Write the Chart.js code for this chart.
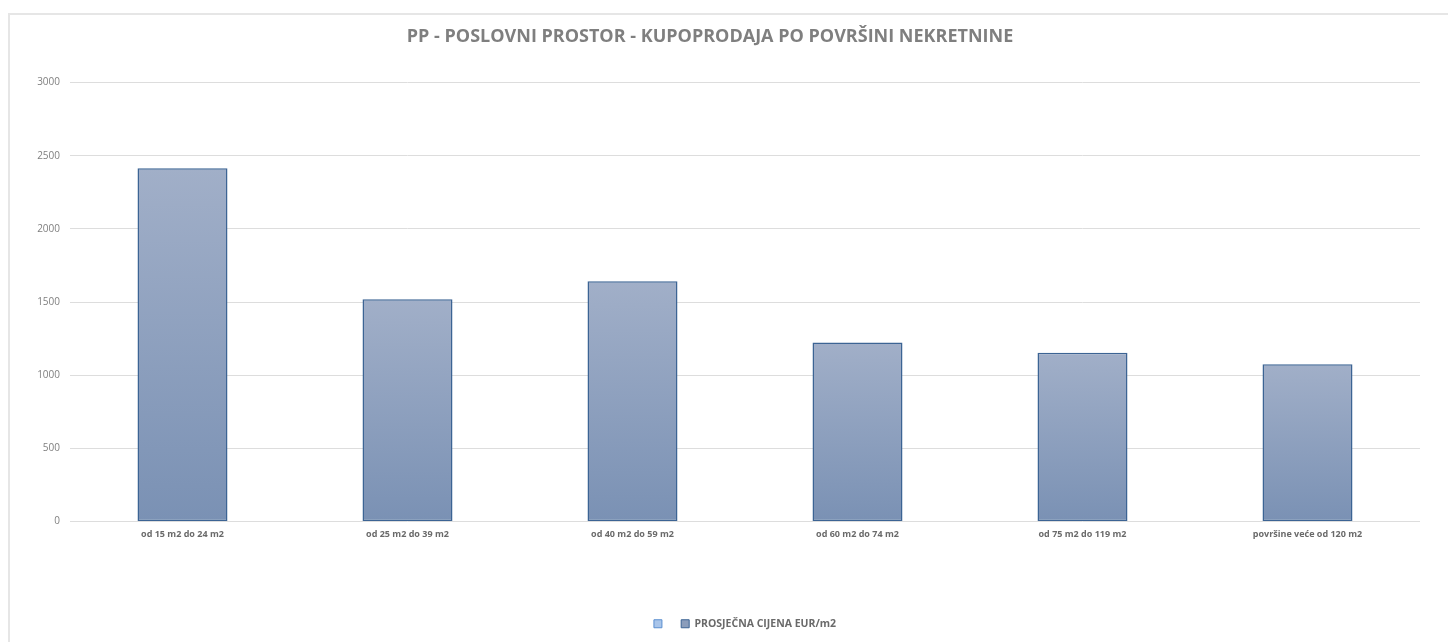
<!DOCTYPE html>
<html>
<head>
<meta charset="utf-8">
<script src="https://cdn.jsdelivr.net/npm/chart.js@4/dist/chart.umd.min.js"></script>
<style>
  html, body { margin: 0; padding: 0; background: #fff; }
  body { width: 1448px; height: 642px; position: relative; overflow: hidden; }
  #frame { position: absolute; left: 8px; top: 13px; width: 1460px; height: 660px;
           border-left: 2px solid #e6e6e6; border-top: 2px solid #e6e6e6; box-sizing: border-box; }
  #wrap { position: absolute; left: 0; top: 0; width: 1448px; height: 642px; }
</style>
</head>
<body>
<div id="frame"></div>
<div id="wrap"><canvas id="c"></canvas></div>
<script>
const titleText = "PP - POSLOVNI PROSTOR - KUPOPRODAJA PO POVRŠINI NEKRETNINE";
const categories = ["od 15 m2 do 24 m2", "od 25 m2 do 39 m2", "od 40 m2 do 59 m2", "od 60 m2 do 74 m2", "od 75 m2 do 119 m2", "površine veće od 120 m2"];
const emptySeriesLabel = "";
const emptySeriesValues = [null, null, null, null, null, null];
const seriesLabel = "PROSJEČNA CIJENA EUR/m2";
const seriesValues = [2415, 1519, 1642, 1224, 1154, 1075];
const yTicks = [0, 500, 1000, 1500, 2000, 2500, 3000];

const FONT = "'Open Sans', 'Liberation Sans', sans-serif";

function barGradient(context) {
  const chart = context.chart;
  const y = chart.scales && chart.scales.y;
  if (!y || context.type !== 'data' || context.raw == null) return '#8fa1be';
  const top = y.getPixelForValue(context.raw);
  const bottom = y.getPixelForValue(0);
  if (!isFinite(top) || !isFinite(bottom) || top === bottom) return '#8fa1be';
  const g = chart.ctx.createLinearGradient(0, top, 0, bottom);
  g.addColorStop(0, '#a1afc8');
  g.addColorStop(1, '#7a91b4');
  return g;
}

const legendShift = {
  id: 'legendShift',
  afterLayout(chart) {
    if (chart.legend) { chart.legend.left += 35; chart.legend.right += 35; }
  }
};

new Chart(document.getElementById('c'), {
  type: 'bar',
  plugins: [legendShift],
  data: {
    labels: categories,
    datasets: [
      {
        label: emptySeriesLabel,
        data: emptySeriesValues,
        backgroundColor: '#a9c5ea',
        borderColor: '#5b8fd0',
        borderWidth: 1,
        grouped: false
      },
      {
        label: seriesLabel,
        data: seriesValues,
        backgroundColor: barGradient,
        borderColor: '#3c6494',
        borderWidth: 1.5,
        borderSkipped: false,
        grouped: false,
        barPercentage: 0.4,
        categoryPercentage: 1.0
      }
    ]
  },
  options: {
    responsive: true,
    maintainAspectRatio: false,
    animation: false,
    layout: { padding: { left: 0, right: 28, top: 14, bottom: 3 } },
    plugins: {
      title: {
        display: true,
        text: titleText,
        color: '#7f7f7f',
        font: { family: FONT, size: 18, weight: 'bold' },
        padding: { top: 12, bottom: 35 }
      },
      legend: {
        position: 'bottom',
        labels: {
          boxWidth: 8,
          boxHeight: 8,
          padding: 14,
          color: '#6a6a6a',
          font: { family: FONT, size: 10.5, weight: 'bold' },
          generateLabels: function(chart) {
            return chart.data.datasets.map((ds, i) => ({
              text: ds.label,
              fillStyle: i === 0 ? '#a9c5ea' : '#8b9dbb',
              strokeStyle: i === 0 ? '#5b8fd0' : '#3c6494',
              fontColor: '#6a6a6a',
              lineWidth: 1,
              hidden: false,
              datasetIndex: i
            }));
          }
        }
      },
      tooltip: { enabled: false }
    },
    scales: {
      x: {
        grid: { display: false, drawTicks: false },
        border: { display: false },
        ticks: {
          color: '#6a6a6a',
          font: { family: FONT, size: 9, weight: 'bold' },
          padding: 8,
          maxRotation: 0
        },
        afterFit: function(scale) { scale.height = 83; }
      },
      y: {
        min: 0,
        max: 3000,
        afterBuildTicks: function(scale) { scale.ticks = yTicks.map(v => ({ value: v })); },
        grid: { color: '#dddddd', lineWidth: 1, drawTicks: false },
        border: { display: false },
        ticks: {
          color: '#7f7f7f',
          font: { family: FONT, size: 10 },
          padding: 10,
          callback: function(v) { return String(v); }
        },
        afterFit: function(scale) { scale.width = 70; }
      }
    }
  }
});
</script>
</body>
</html>
